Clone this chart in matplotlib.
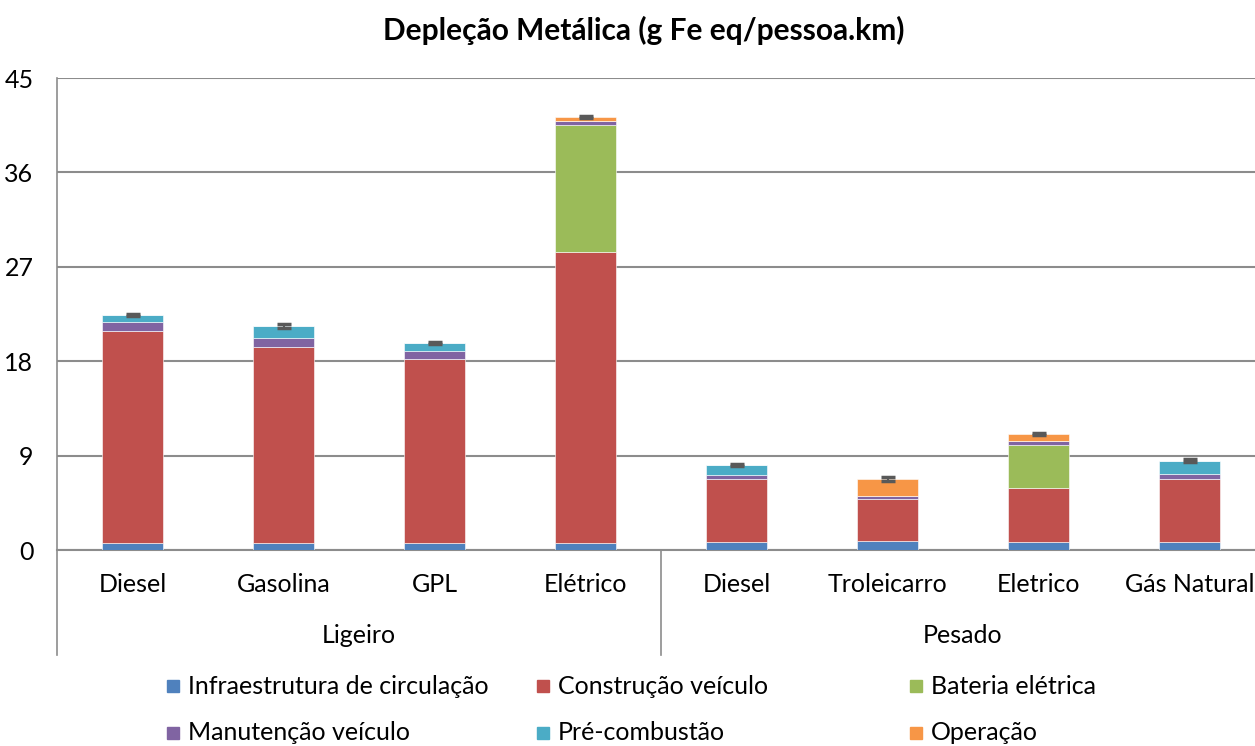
import matplotlib
matplotlib.use("Agg")
import matplotlib.pyplot as plt
import matplotlib.transforms as mtransforms
from matplotlib.patches import Rectangle
import numpy as np

plt.rcParams['font.family'] = ['Lato', 'DejaVu Sans']

categories = ["Diesel", "Gasolina", "GPL", "Elétrico",
              "Diesel", "Troleicarro", "Eletrico", "Gás Natural"]
groups = ["Ligeiro", "Pesado"]
group_sizes = [4, 4]

series_names = ["Infraestrutura de circulação", "Construção veículo", "Bateria elétrica",
                "Manutenção veículo", "Pré-combustão", "Operação"]
infra = [0.64, 0.64, 0.64, 0.64, 0.73, 0.86, 0.73, 0.73]
construcao = [20.26, 18.68, 17.54, 27.76, 6.04, 4.03, 5.21, 6.07]
bateria = [0.0, 0.0, 0.0, 12.1, 0.0, 0.0, 4.1, 0.0]
manutencao = [0.86, 0.86, 0.82, 0.37, 0.41, 0.26, 0.35, 0.41]
precomb = [0.64, 1.17, 0.70, 0.0, 0.92, 0.0, 0.0, 1.31]
operacao = [0.0, 0.0, 0.0, 0.45, 0.0, 1.59, 0.70, 0.0]
errors = [0.12, 0.18, 0.1, 0.1, 0.1, 0.2, 0.1, 0.15]

colors = ["#4F81BD", "#C0504D", "#9BBB59", "#8064A2", "#4BACC6", "#F79646"]
series = [infra, construcao, bateria, manutencao, precomb, operacao]

FS = 18
W, H = 1255, 746
fig = plt.figure(figsize=(W / 100, H / 100), dpi=100)
# plot area extends slightly past the right edge of the image (as in the reference)
ax = fig.add_axes([57 / W, (H - 550) / H, 1208 / W, (550 - 78) / H])

x = np.arange(len(categories))
bottom = np.zeros(len(categories))
for vals, col, name in zip(series, colors, series_names):
    v = np.array(vals)
    ax.bar(x, v, 0.4, bottom=bottom, color=col, label=name,
           edgecolor="white", linewidth=0.4, zorder=3)
    bottom += v

ax.errorbar(x, bottom, yerr=errors, fmt="none", ecolor="#595959",
            elinewidth=1.5, capsize=5, capthick=2.5, zorder=4)

ax.set_xlim(-0.5, len(categories) - 0.5)
ax.set_ylim(0, 45)
ax.set_yticks(np.arange(0, 46, 9))
ax.yaxis.grid(True, color="#8C8C8C", linewidth=1.5, zorder=0)
ax.set_axisbelow(True)
for s in ["top", "right"]:
    ax.spines[s].set_visible(False)
ax.spines["left"].set_color("#8C8C8C")
ax.spines["left"].set_linewidth(1.2)
ax.spines["bottom"].set_color("#8C8C8C")
ax.spines["bottom"].set_linewidth(1.5)
ax.tick_params(axis="y", length=0, labelsize=FS, pad=17)
ax.tick_params(axis="x", length=0, labelbottom=False)

trans = mtransforms.blended_transform_factory(ax.transData, ax.transAxes)
for xi, c in zip(x, categories):
    ax.text(xi, -0.074, c, transform=trans, ha="center", va="center", fontsize=FS)

start = 0
sep_y = -105 / 472
ax.plot([-0.5, -0.5], [0, sep_y], transform=trans, color="#8C8C8C", lw=1.2, clip_on=False)
for g, n in zip(groups, group_sizes):
    center = start + (n - 1) / 2
    ax.text(center, -0.182, g, transform=trans, ha="center", va="center", fontsize=FS)
    end = start + n - 0.5
    if end < len(categories) - 0.5:
        ax.plot([end, end], [0, sep_y], transform=trans, color="#8C8C8C", lw=1.2, clip_on=False)
    start += n

fig.text(644 / W, 1 - 30 / H, "Depleção Metálica (g Fe eq/pessoa.km)",
         ha="center", va="center", fontsize=21.5, fontweight="bold")

# legend (two rows, three columns)
leg_pos = [(167, 686), (537, 686), (910, 686), (167, 733), (537, 733), (910, 733)]
for (px, py), i in zip(leg_pos, range(6)):
    fig.add_artist(Rectangle((px / W, 1 - (py + 6) / H), 12 / W, 12 / H,
                             transform=fig.transFigure, color=colors[i]))
    fig.text((px + 21) / W, 1 - py / H, series_names[i], ha="left", va="center", fontsize=FS)

fig.savefig("out.png", dpi=100, facecolor="white")
